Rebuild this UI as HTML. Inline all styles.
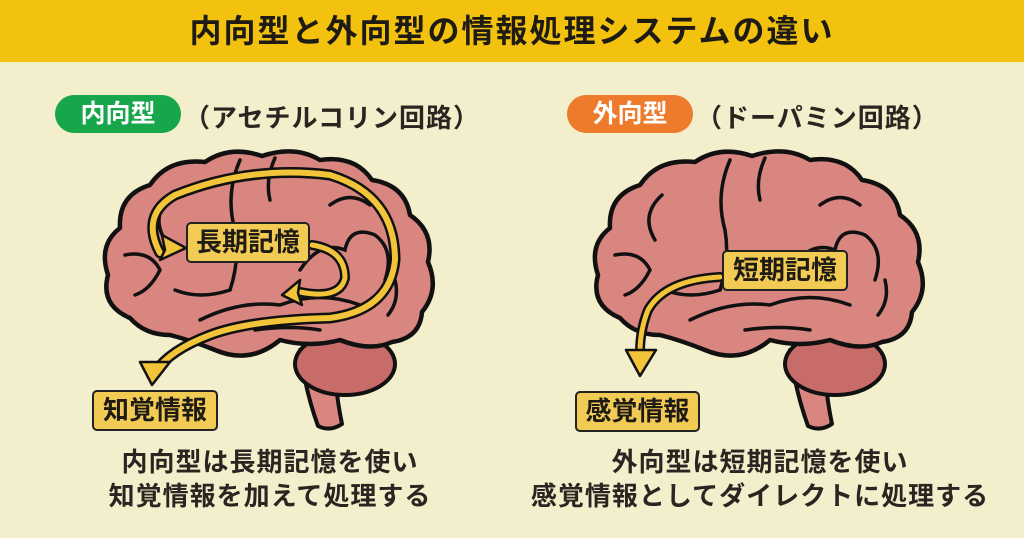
<!DOCTYPE html>
<html><head><meta charset="utf-8"><style>
body{margin:0;width:1024px;height:538px;overflow:hidden;background:#f3efcc;font-family:"Liberation Sans","Noto Sans CJK JP",sans-serif;}
.hdr{position:absolute;left:0;top:0;width:1024px;height:62px;background:#f3c20f;text-align:center;line-height:62px;font-size:32px;font-weight:bold;color:#1e1a14;letter-spacing:2px}
.pill{position:absolute;height:38px;border-radius:19px;color:#fff;font-size:25px;font-weight:bold;line-height:38px;text-align:center}
.t{position:absolute;font-size:26px;font-weight:bold;color:#2a2520;white-space:nowrap;letter-spacing:1px}
.lab{position:absolute;background:#f2cb55;border:2.5px solid #222;border-radius:5px;font-size:26px;font-weight:bold;color:#1e1a14;text-align:center;box-sizing:border-box}
.cap{position:absolute;font-size:26px;font-weight:bold;color:#2a2520;text-align:center;white-space:nowrap;line-height:34px;letter-spacing:1px}
</style></head><body>
<div class="hdr">内向型と外向型の情報処理システムの違い</div>
<div class="pill" style="left:55px;top:95px;width:126px;background:#17a64a">内向型</div>
<div class="t" style="left:184px;top:98px">（アセチルコリン回路）</div>
<div class="pill" style="left:567px;top:95px;width:126px;background:#ee7a2b">外向型</div>
<div class="t" style="left:696px;top:98px">（ドーパミン回路）</div>
<svg width="1024" height="538" style="position:absolute;left:0;top:0">
<defs>
<g id="brain">
<path d="M300,350 Q305,390 318,426 Q330,432 342,424 Q336,395 335,370 Z" fill="#d98580" stroke="#111" stroke-width="4" stroke-linejoin="round"/>
<ellipse cx="345" cy="364" rx="50" ry="31" fill="#c86c6a" stroke="#111" stroke-width="4"/>
<path d="M130,318 Q100,305 108,275 Q98,245 120,228 Q118,195 150,185 Q168,158 205,162 Q230,145 262,156 Q295,145 320,160 Q355,155 372,180 Q405,185 410,215 Q435,232 428,262 Q440,290 422,312 Q420,338 392,342 Q370,352 340,340 Q310,348 280,340 Q250,365 215,350 Q190,340 170,335 Q145,335 130,318 Z" fill="#d98580" stroke="#111" stroke-width="4.5" stroke-linejoin="round"/>
<g fill="none" stroke="#111" stroke-width="3.5" stroke-linecap="round">
<path d="M240,160 Q225,195 235,230 Q240,260 230,290"/>
<path d="M275,158 Q265,180 270,200"/>
<path d="M172,195 Q150,215 165,240"/>
<path d="M125,255 Q150,250 160,270 Q150,290 135,295"/>
<path d="M175,290 Q200,300 230,290"/>
<path d="M200,320 Q240,300 280,305 Q320,290 360,305"/>
<path d="M255,330 Q290,325 320,330"/>
<path d="M300,270 Q320,240 345,250 Q350,225 375,235 Q395,250 385,280"/>
<path d="M395,280 Q400,300 388,315"/>
<path d="M330,205 Q350,190 370,205"/>
</g>
</g>
</defs>
<use href="#brain"/>
<use href="#brain" transform="translate(490,0)"/>
<g fill="none" stroke-linecap="round">
<path d="M160,253 Q140,215 175,195 Q250,165 330,175 Q395,195 395,260 Q390,310 330,318 Q250,320 210,335 Q170,350 155,372" stroke="#111" stroke-width="11"/>
<path d="M160,253 Q140,215 175,195 Q250,165 330,175 Q395,195 395,260 Q390,310 330,318 Q250,320 210,335 Q170,350 155,372" stroke="#f2c43a" stroke-width="6"/>
<path d="M312,245 Q345,250 345,278 Q340,300 300,292" stroke="#111" stroke-width="10"/>
<path d="M312,245 Q345,250 345,278 Q340,300 300,292" stroke="#f2c43a" stroke-width="5"/>
<path d="M720,277 Q665,280 648,310 Q640,330 640,352" stroke="#111" stroke-width="10"/>
<path d="M720,277 Q665,280 648,310 Q640,330 640,352" stroke="#f2c43a" stroke-width="5"/>
</g>
<g fill="#f2c43a" stroke="#111" stroke-width="2.5" stroke-linejoin="round">
<polygon points="162,235 186,248 160,260 165,250"/>
<polygon points="140,362 170,362 152,385"/>
<polygon points="300,280 282,295 302,305 298,293"/>
<polygon points="626,350 656,350 640,376"/>
</g>
</svg>
<div class="lab" style="left:186px;top:222px;width:124px;height:41px;line-height:36px">長期記憶</div>
<div class="lab" style="left:92px;top:390px;width:126px;height:41px;line-height:36px">知覚情報</div>
<div class="lab" style="left:722px;top:250px;width:126px;height:41px;line-height:36px">短期記憶</div>
<div class="lab" style="left:575px;top:391px;width:125px;height:41px;line-height:36px">感覚情報</div>
<div class="cap" style="left:20px;width:500px;top:445px">内向型は長期記憶を使い<br>知覚情報を加えて処理する</div>
<div class="cap" style="left:510px;width:500px;top:445px">外向型は短期記憶を使い<br>感覚情報としてダイレクトに処理する</div>
</body></html>
